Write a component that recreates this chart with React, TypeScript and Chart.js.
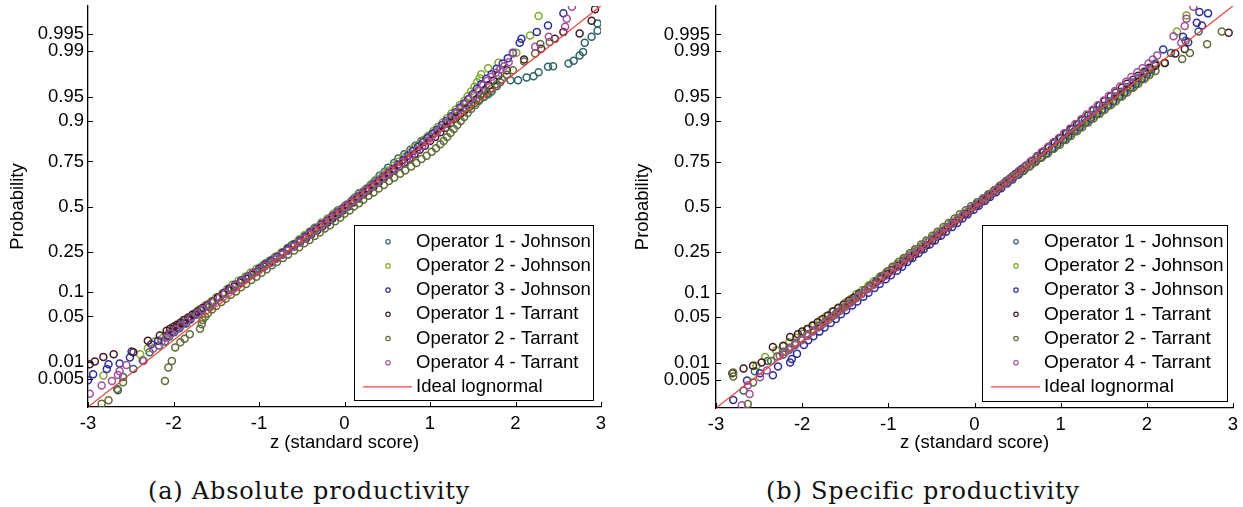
import React, { useEffect, useRef } from "react";
import { Chart, registerables } from "chart.js";

Chart.register(...registerables);

type Pt = [number, number];

const seriesNames = [
  "Operator 1 - Johnson",
  "Operator 2 - Johnson",
  "Operator 3 - Johnson",
  "Operator 1 - Tarrant",
  "Operator 2 - Tarrant",
  "Operator 4 - Tarrant",
];
const idealName = "Ideal lognormal";
const probTickLabels = ["0.005", "0.01", "0.05", "0.1", "0.25", "0.5", "0.75", "0.9", "0.95", "0.99", "0.995"];
const probTickZ = [-2.5758, -2.3263, -1.6449, -1.2816, -0.6745, 0, 0.6745, 1.2816, 1.6449, 2.3263, 2.5758];
const zTicks = [-3, -2, -1, 0, 1, 2, 3];
const idealLine: Pt[] = [[-3, -3], [3, 3]];

// (a) Absolute productivity  — [z score, probability quantile]
const absOp1Johnson: Pt[] = [
  [-2.65, -2.75], [-2.59, -2.55], [-2.47, -2.43], [-2.36, -2.30], [-2.28, -2.18],
  [-2.17, -2.08], [-2.05, -1.95], [-1.93, -1.82], [-1.80, -1.69], [-1.67, -1.56], [-1.53, -1.43],
  [-1.40, -1.30], [-1.27, -1.17], [-1.12, -1.04], [-0.98, -0.91], [-0.83, -0.78], [-0.67, -0.65],
  [-0.54, -0.52], [-0.41, -0.39], [-0.27, -0.26], [-0.14, -0.13], [0.00, 0.00], [0.12, 0.13],
  [0.25, 0.26], [0.36, 0.39], [0.47, 0.52], [0.58, 0.65], [0.70, 0.78], [0.83, 0.91], [0.97, 1.04],
  [1.12, 1.17], [1.27, 1.30], [1.40, 1.43], [1.52, 1.55], [1.63, 1.64], [1.72, 1.72], [1.78, 1.80],
  [1.82, 1.86], [1.94, 1.89], [2.03, 1.89], [2.13, 1.93], [2.21, 1.95], [2.27, 2.01], [2.38, 2.09],
  [2.44, 2.10], [2.62, 2.14], [2.68, 2.18], [2.75, 2.26], [2.79, 2.31], [2.81, 2.45], [2.89, 2.54],
  [2.96, 2.63], [2.96, 2.74],
  [-2.10, -2.02], [-1.99, -1.88], [-1.85, -1.75], [-1.74, -1.62], [-1.58, -1.50], [-1.48, -1.36],
  [-1.32, -1.24], [-1.20, -1.10], [-1.03, -0.98], [-0.92, -0.85], [-0.74, -0.72], [-0.62, -0.58],
  [-0.46, -0.46], [-0.35, -0.32], [-0.19, -0.20], [-0.08, -0.06], [0.07, 0.06], [0.17, 0.20],
  [0.31, 0.33], [0.41, 0.46], [0.51, 0.58], [0.63, 0.72], [0.77, 0.85], [0.90, 0.98], [1.05, 1.10],
  [1.20, 1.24], [1.33, 1.36], [1.46, 1.49], [1.58, 1.60], [1.68, 1.68],
];
const absOp2Johnson: Pt[] = [
  [-2.82, -2.53], [-2.39, -2.21], [-2.30, -2.12], [-2.22, -2.02],
  [-2.12, -1.96], [-2.00, -1.84], [-1.88, -1.72], [-1.76, -1.60], [-1.63, -1.48], [-1.50, -1.36],
  [-1.37, -1.23], [-1.24, -1.11], [-1.10, -0.99], [-0.95, -0.87], [-0.81, -0.75], [-0.67, -0.62],
  [-0.53, -0.49], [-0.40, -0.37], [-0.27, -0.24], [-0.13, -0.11], [0.01, 0.02], [0.14, 0.15],
  [0.27, 0.28], [0.39, 0.41], [0.51, 0.54], [0.63, 0.67], [0.75, 0.80], [0.87, 0.93], [0.98, 1.06],
  [1.09, 1.19], [1.20, 1.32], [1.30, 1.45], [1.40, 1.58], [1.48, 1.72], [1.55, 1.86], [1.60, 1.98],
  [1.68, 2.07], [1.80, 2.15], [2.01, 2.30], [2.17, 2.56], [2.27, 2.85],
  [-2.06, -1.90], [-1.95, -1.78], [-1.81, -1.66], [-1.70, -1.54], [-1.56, -1.42], [-1.43, -1.30],
  [-1.31, -1.17], [-1.16, -1.05], [-1.03, -0.93], [-0.88, -0.81], [-0.74, -0.69], [-0.60, -0.56],
  [-0.47, -0.43], [-0.33, -0.31], [-0.20, -0.18], [-0.06, -0.05], [0.08, 0.09], [0.21, 0.22],
  [0.33, 0.35], [0.45, 0.48], [0.57, 0.61], [0.69, 0.74], [0.81, 0.87], [0.93, 1.00], [1.04, 1.13],
  [1.15, 1.26], [1.25, 1.39], [1.35, 1.52], [1.44, 1.65], [1.52, 1.79], [1.58, 1.92],
];
const absOp3Johnson: Pt[] = [
  [-3.00, -2.60], [-2.94, -2.51], [-2.78, -2.43], [-2.76, -2.36], [-2.63, -2.35], [-2.51, -2.26],
  [-2.49, -2.17], [-2.26, -2.06], [-2.18, -2.01],
  [-2.07, -1.93], [-1.95, -1.81], [-1.81, -1.68], [-1.68, -1.55], [-1.54, -1.42], [-1.41, -1.29],
  [-1.28, -1.17], [-1.14, -1.05], [-1.00, -0.93], [-0.86, -0.81], [-0.72, -0.69], [-0.59, -0.57],
  [-0.46, -0.45], [-0.33, -0.33], [-0.20, -0.21], [-0.08, -0.09], [0.04, 0.03], [0.16, 0.15],
  [0.28, 0.27], [0.40, 0.39], [0.52, 0.51], [0.63, 0.63], [0.74, 0.76], [0.86, 0.89], [0.97, 1.02],
  [1.08, 1.15], [1.19, 1.28], [1.30, 1.41], [1.40, 1.54], [1.50, 1.68], [1.60, 1.83], [1.72, 1.98],
  [1.85, 2.14], [1.97, 2.30], [2.05, 2.45], [2.07, 2.51], [2.25, 2.61], [2.38, 2.71], [2.56, 2.89],
  [-2.01, -1.87], [-1.88, -1.75], [-1.75, -1.62], [-1.61, -1.49], [-1.48, -1.36], [-1.35, -1.23],
  [-1.21, -1.11], [-1.07, -0.99], [-0.93, -0.87], [-0.79, -0.75], [-0.66, -0.63], [-0.52, -0.51],
  [-0.40, -0.39], [-0.27, -0.27], [-0.14, -0.15], [-0.02, -0.03], [0.10, 0.09], [0.22, 0.21],
  [0.34, 0.33], [0.46, 0.45], [0.58, 0.57], [0.69, 0.70], [0.80, 0.83], [0.92, 0.96], [1.03, 1.09],
  [1.14, 1.22], [1.25, 1.35], [1.35, 1.48], [1.45, 1.61], [1.55, 1.76], [1.66, 1.91], [1.78, 2.06],
  [1.91, 2.22],
];
const absOp1Tarrant: Pt[] = [
  [-2.98, -2.36], [-2.92, -2.32], [-2.82, -2.25], [-2.70, -2.21], [-2.47, -2.18], [-2.30, -2.01],
  [-2.16, -1.93], [-2.08, -1.86],
  [-2.00, -1.80], [-1.92, -1.74], [-1.83, -1.66], [-1.72, -1.57], [-1.60, -1.47], [-1.48, -1.36],
  [-1.35, -1.25], [-1.22, -1.14], [-1.08, -1.02], [-0.94, -0.90], [-0.80, -0.78], [-0.66, -0.66],
  [-0.52, -0.54], [-0.39, -0.42], [-0.26, -0.30], [-0.14, -0.18], [-0.02, -0.06], [0.10, 0.06],
  [0.22, 0.18], [0.34, 0.30], [0.46, 0.42], [0.58, 0.54], [0.70, 0.66], [0.82, 0.78], [0.94, 0.91],
  [1.06, 1.04], [1.18, 1.18], [1.30, 1.32], [1.42, 1.46], [1.54, 1.60], [1.64, 1.74], [1.74, 1.88],
  [1.90, 2.04], [2.10, 2.20], [2.30, 2.36], [2.46, 2.51], [2.56, 2.61], [2.75, 2.59], [2.89, 2.78],
  [2.93, 2.95],
  [-2.04, -1.83], [-1.96, -1.77], [-1.88, -1.70], [-1.78, -1.62], [-1.66, -1.52], [-1.54, -1.42],
  [-1.42, -1.31], [-1.29, -1.20], [-1.15, -1.08], [-1.01, -0.96], [-0.87, -0.84], [-0.73, -0.72],
  [-0.59, -0.60], [-0.45, -0.48], [-0.32, -0.36], [-0.20, -0.24], [-0.08, -0.12], [0.04, 0.00],
  [0.16, 0.12], [0.28, 0.24], [0.40, 0.36], [0.52, 0.48], [0.64, 0.60], [0.76, 0.72], [0.88, 0.85],
  [1.00, 0.98], [1.12, 1.11], [1.24, 1.25], [1.36, 1.39], [1.48, 1.53], [1.59, 1.67], [1.69, 1.81],
  [1.80, 1.96],
];
const absOp2Tarrant: Pt[] = [
  [-2.84, -2.95], [-2.76, -2.90], [-2.66, -2.73], [-2.59, -2.63], [-2.10, -2.61], [-2.06, -2.41],
  [-2.02, -2.31], [-1.98, -2.11], [-1.92, -2.03], [-1.87, -1.98], [-1.81, -1.91], [-1.69, -1.83],
  [-1.67, -1.76], [-1.66, -1.70],
  [-1.60, -1.60], [-1.50, -1.49], [-1.39, -1.38], [-1.27, -1.27], [-1.15, -1.16], [-1.03, -1.05],
  [-0.91, -0.94], [-0.79, -0.83], [-0.66, -0.72], [-0.53, -0.61], [-0.41, -0.50], [-0.29, -0.39],
  [-0.17, -0.28], [-0.05, -0.17], [0.06, -0.06], [0.17, 0.05], [0.28, 0.16], [0.40, 0.27],
  [0.52, 0.38], [0.65, 0.49], [0.78, 0.60], [0.90, 0.71], [1.02, 0.82], [1.12, 0.93], [1.20, 1.04],
  [1.28, 1.16], [1.36, 1.28], [1.44, 1.40], [1.53, 1.52], [1.62, 1.64], [1.72, 1.76], [1.84, 1.90],
  [1.97, 2.04], [2.10, 2.17], [2.23, 2.29], [2.29, 2.43], [2.40, 2.46],
  [-1.63, -1.65], [-1.55, -1.54], [-1.44, -1.43], [-1.33, -1.32], [-1.21, -1.21], [-1.09, -1.10],
  [-0.97, -0.99], [-0.85, -0.88], [-0.72, -0.77], [-0.59, -0.66], [-0.47, -0.55], [-0.35, -0.44],
  [-0.23, -0.33], [-0.11, -0.22], [0.00, -0.11], [0.11, 0.00], [0.22, 0.10], [0.34, 0.21],
  [0.46, 0.32], [0.58, 0.43], [0.71, 0.54], [0.84, 0.65], [0.96, 0.76], [1.07, 0.87], [1.16, 0.98],
  [1.24, 1.10], [1.32, 1.22], [1.40, 1.34], [1.48, 1.46], [1.57, 1.58], [1.67, 1.70], [1.78, 1.83],
  [1.90, 1.97],
];
const absOp4Tarrant: Pt[] = [
  [-2.98, -2.80], [-2.84, -2.68], [-2.72, -2.61], [-2.65, -2.52], [-2.63, -2.46], [-2.55, -2.37],
  [-2.35, -2.31], [-2.24, -2.13],
  [-2.14, -2.02], [-2.03, -1.90], [-1.91, -1.78], [-1.79, -1.66], [-1.66, -1.54], [-1.53, -1.42],
  [-1.40, -1.30], [-1.27, -1.18], [-1.14, -1.06], [-1.00, -0.95], [-0.86, -0.84], [-0.73, -0.72],
  [-0.60, -0.60], [-0.47, -0.48], [-0.35, -0.36], [-0.23, -0.24], [-0.11, -0.12], [0.01, 0.00],
  [0.13, 0.12], [0.25, 0.24], [0.37, 0.36], [0.49, 0.48], [0.61, 0.60], [0.73, 0.72], [0.85, 0.85],
  [0.97, 0.98], [1.08, 1.11], [1.19, 1.25], [1.30, 1.39], [1.41, 1.53], [1.52, 1.67], [1.62, 1.81],
  [1.72, 1.94], [1.82, 2.05], [1.92, 2.16], [1.97, 2.29], [2.23, 2.39], [2.39, 2.54], [2.58, 2.69],
  [2.60, 2.81], [2.66, 2.99],
  [-2.08, -1.96], [-1.97, -1.84], [-1.85, -1.72], [-1.72, -1.60], [-1.59, -1.48], [-1.46, -1.36],
  [-1.33, -1.24], [-1.20, -1.12], [-1.07, -1.00], [-0.93, -0.89], [-0.80, -0.78], [-0.66, -0.66],
  [-0.53, -0.54], [-0.41, -0.42], [-0.29, -0.30], [-0.17, -0.18], [-0.05, -0.06], [0.07, 0.06],
  [0.19, 0.18], [0.31, 0.30], [0.43, 0.42], [0.55, 0.54], [0.67, 0.66], [0.79, 0.78], [0.91, 0.91],
  [1.02, 1.04], [1.13, 1.18], [1.24, 1.32], [1.35, 1.46], [1.46, 1.60], [1.57, 1.74], [1.67, 1.88],
  [1.77, 2.00], [1.87, 2.10],
];

// (b) Specific productivity — [z score, probability quantile]
const specOp1Johnson: Pt[] = [
  [-2.68, -2.74], [-2.55, -2.45], [-2.40, -2.30],
  [-2.22, -2.20], [-2.08, -2.06], [-1.94, -1.92], [-1.79, -1.78], [-1.66, -1.64], [-1.52, -1.50],
  [-1.38, -1.36], [-1.24, -1.22], [-1.10, -1.08], [-0.96, -0.94], [-0.82, -0.80], [-0.68, -0.66],
  [-0.54, -0.52], [-0.40, -0.38], [-0.27, -0.24], [-0.12, -0.10], [0.02, 0.04], [0.16, 0.18],
  [0.30, 0.32], [0.44, 0.46], [0.58, 0.60], [0.72, 0.74], [0.86, 0.88], [1.00, 1.02], [1.14, 1.16],
  [1.28, 1.30], [1.42, 1.44], [1.56, 1.58], [1.70, 1.72], [1.84, 1.86], [1.98, 2.00], [2.10, 2.14],
  [2.28, 2.30], [2.45, 2.48], [2.60, 2.62],
  [-2.15, -2.13], [-2.01, -1.99], [-1.87, -1.85], [-1.73, -1.71], [-1.59, -1.57], [-1.45, -1.43],
  [-1.31, -1.29], [-1.17, -1.15], [-1.03, -1.01], [-0.89, -0.87], [-0.75, -0.73], [-0.61, -0.59],
  [-0.47, -0.45], [-0.33, -0.31], [-0.19, -0.17], [-0.05, -0.03], [0.09, 0.11], [0.23, 0.25],
  [0.37, 0.39], [0.51, 0.53], [0.65, 0.67], [0.79, 0.81], [0.93, 0.95], [1.07, 1.09], [1.21, 1.23],
  [1.35, 1.37], [1.49, 1.51], [1.63, 1.65], [1.77, 1.79], [1.91, 1.93], [2.04, 2.07],
];
const specOp2Johnson: Pt[] = [
  [-2.53, -2.37], [-2.43, -2.24],
  [-2.30, -2.14], [-2.15, -2.02], [-2.00, -1.89], [-1.86, -1.76], [-1.72, -1.63], [-1.58, -1.50],
  [-1.43, -1.37], [-1.30, -1.24], [-1.17, -1.11], [-1.03, -0.98], [-0.90, -0.85], [-0.76, -0.72],
  [-0.62, -0.59], [-0.49, -0.46], [-0.35, -0.33], [-0.22, -0.20], [-0.08, -0.07], [0.06, 0.06],
  [0.19, 0.19], [0.32, 0.32], [0.46, 0.45], [0.60, 0.58], [0.73, 0.71], [0.87, 0.84], [1.00, 0.97],
  [1.13, 1.10], [1.26, 1.23], [1.40, 1.36], [1.53, 1.49], [1.66, 1.62], [1.79, 1.75], [1.92, 1.88],
  [2.05, 2.01], [2.20, 2.15], [2.35, 2.62], [2.46, 2.86],
  [-2.22, -2.08], [-2.07, -1.95], [-1.93, -1.82], [-1.79, -1.69], [-1.65, -1.56], [-1.50, -1.43],
  [-1.37, -1.30], [-1.23, -1.17], [-1.10, -1.04], [-0.96, -0.91], [-0.83, -0.78], [-0.69, -0.65],
  [-0.55, -0.52], [-0.42, -0.39], [-0.28, -0.26], [-0.15, -0.13], [-0.01, 0.00], [0.13, 0.12],
  [0.26, 0.25], [0.39, 0.38], [0.53, 0.51], [0.67, 0.64], [0.80, 0.77], [0.94, 0.90], [1.07, 1.03],
  [1.20, 1.16], [1.33, 1.29], [1.47, 1.42], [1.60, 1.55], [1.73, 1.68], [1.86, 1.81], [1.99, 1.94],
];
const specOp3Johnson: Pt[] = [
  [-2.80, -2.88], [-2.64, -2.59], [-2.49, -2.48], [-2.34, -2.51], [-2.28, -2.38], [-2.14, -2.32],
  [-2.12, -2.27], [-2.06, -2.19],
  [-1.98, -2.06], [-1.87, -1.93], [-1.74, -1.80], [-1.61, -1.67], [-1.49, -1.54], [-1.36, -1.41],
  [-1.23, -1.28], [-1.10, -1.15], [-0.97, -1.02], [-0.84, -0.89], [-0.72, -0.76], [-0.59, -0.63],
  [-0.46, -0.50], [-0.33, -0.37], [-0.20, -0.24], [-0.08, -0.11], [0.05, 0.02], [0.18, 0.15],
  [0.31, 0.28], [0.44, 0.41], [0.57, 0.54], [0.70, 0.67], [0.83, 0.80], [0.96, 0.93], [1.09, 1.06],
  [1.22, 1.19], [1.35, 1.32], [1.48, 1.45], [1.61, 1.58], [1.74, 1.71], [1.87, 1.84], [2.00, 1.98],
  [2.10, 2.12], [2.19, 2.35], [2.42, 2.54], [2.48, 2.46], [2.58, 2.75], [2.64, 2.71], [2.61, 2.91],
  [2.71, 2.89],
  [-1.93, -1.99], [-1.80, -1.86], [-1.67, -1.73], [-1.55, -1.60], [-1.42, -1.47], [-1.29, -1.34],
  [-1.16, -1.21], [-1.03, -1.08], [-0.90, -0.95], [-0.78, -0.82], [-0.65, -0.69], [-0.52, -0.56],
  [-0.39, -0.43], [-0.26, -0.30], [-0.14, -0.17], [-0.01, -0.04], [0.12, 0.09], [0.25, 0.22],
  [0.38, 0.35], [0.51, 0.48], [0.64, 0.61], [0.77, 0.74], [0.90, 0.87], [1.03, 1.00], [1.16, 1.13],
  [1.29, 1.26], [1.42, 1.39], [1.55, 1.52], [1.68, 1.65], [1.81, 1.78], [1.94, 1.91], [2.05, 2.05],
];
const specOp1Tarrant: Pt[] = [
  [-2.81, -2.48], [-2.68, -2.41], [-2.57, -2.37], [-2.47, -2.32], [-2.34, -2.09], [-2.22, -2.07],
  [-2.14, -1.94],
  [-2.05, -1.90], [-1.94, -1.82], [-1.82, -1.72], [-1.70, -1.62], [-1.58, -1.51], [-1.46, -1.40],
  [-1.34, -1.29], [-1.21, -1.18], [-1.08, -1.06], [-0.95, -0.94], [-0.82, -0.82], [-0.69, -0.70],
  [-0.56, -0.57], [-0.43, -0.44], [-0.31, -0.31], [-0.18, -0.18], [-0.05, -0.05], [0.08, 0.08],
  [0.21, 0.21], [0.34, 0.35], [0.47, 0.49], [0.60, 0.62], [0.73, 0.76], [0.86, 0.90], [0.99, 1.03],
  [1.12, 1.16], [1.25, 1.30], [1.38, 1.44], [1.51, 1.58], [1.64, 1.71], [1.77, 1.84], [1.90, 1.96],
  [2.03, 2.08], [2.21, 2.15], [2.33, 2.29], [2.44, 2.36], [2.95, 2.60],
  [-2.00, -1.86], [-1.88, -1.77], [-1.76, -1.67], [-1.64, -1.56], [-1.52, -1.46], [-1.40, -1.35],
  [-1.27, -1.24], [-1.14, -1.12], [-1.01, -1.00], [-0.88, -0.88], [-0.75, -0.76], [-0.62, -0.63],
  [-0.49, -0.50], [-0.37, -0.37], [-0.24, -0.24], [-0.11, -0.11], [0.02, 0.02], [0.15, 0.15],
  [0.28, 0.28], [0.41, 0.42], [0.54, 0.56], [0.67, 0.69], [0.80, 0.83], [0.93, 0.97], [1.06, 1.10],
  [1.19, 1.23], [1.32, 1.37], [1.45, 1.51], [1.58, 1.65], [1.71, 1.78], [1.84, 1.90], [1.97, 2.02],
  [2.10, 2.11],
];
const specOp2Tarrant: Pt[] = [
  [-2.80, -2.47], [-2.80, -2.53], [-2.63, -2.94], [-2.57, -2.62],
  [-2.36, -2.30], [-2.22, -2.16], [-2.08, -2.03], [-1.94, -1.90], [-1.80, -1.77], [-1.66, -1.64],
  [-1.53, -1.51], [-1.40, -1.38], [-1.27, -1.24], [-1.14, -1.10], [-1.01, -0.96], [-0.88, -0.82],
  [-0.75, -0.69], [-0.62, -0.56], [-0.49, -0.43], [-0.36, -0.30], [-0.23, -0.17], [-0.10, -0.05],
  [0.03, 0.07], [0.16, 0.19], [0.29, 0.31], [0.43, 0.43], [0.57, 0.55], [0.71, 0.67], [0.85, 0.80],
  [0.99, 0.93], [1.12, 1.06], [1.25, 1.19], [1.38, 1.32], [1.51, 1.45], [1.64, 1.58], [1.77, 1.71],
  [1.90, 1.84], [2.03, 1.97], [2.41, 2.21], [2.50, 2.30], [2.70, 2.43], [2.87, 2.62],
  [-2.29, -2.23], [-2.15, -2.10], [-2.01, -1.97], [-1.87, -1.84], [-1.73, -1.71], [-1.60, -1.58],
  [-1.47, -1.45], [-1.34, -1.31], [-1.21, -1.17], [-1.08, -1.03], [-0.95, -0.89], [-0.82, -0.76],
  [-0.69, -0.63], [-0.56, -0.50], [-0.43, -0.37], [-0.30, -0.24], [-0.17, -0.11], [-0.04, 0.01],
  [0.10, 0.13], [0.23, 0.25], [0.36, 0.37], [0.50, 0.49], [0.64, 0.61], [0.78, 0.74], [0.92, 0.87],
  [1.06, 1.00], [1.19, 1.13], [1.32, 1.26], [1.45, 1.39], [1.58, 1.52], [1.71, 1.65], [1.84, 1.78],
  [1.97, 1.91], [2.10, 2.03],
];
const specOp4Tarrant: Pt[] = [
  [-2.70, -2.96], [-2.61, -2.79], [-2.63, -2.66], [-2.49, -2.54], [-2.41, -2.44], [-2.26, -2.22],
  [-2.13, -2.10], [-2.00, -1.98], [-1.88, -1.86], [-1.75, -1.74], [-1.62, -1.61], [-1.49, -1.48],
  [-1.36, -1.35], [-1.23, -1.22], [-1.10, -1.09], [-0.97, -0.96], [-0.84, -0.83], [-0.71, -0.70],
  [-0.58, -0.57], [-0.45, -0.44], [-0.32, -0.31], [-0.19, -0.18], [-0.06, -0.05], [0.07, 0.08],
  [0.20, 0.21], [0.33, 0.34], [0.46, 0.47], [0.59, 0.61], [0.72, 0.75], [0.85, 0.89], [0.98, 1.03],
  [1.11, 1.17], [1.24, 1.31], [1.37, 1.45], [1.50, 1.59], [1.63, 1.73], [1.76, 1.87], [1.89, 2.01],
  [2.02, 2.14], [2.12, 2.26], [2.31, 2.55], [2.40, 2.45], [2.44, 2.70], [2.46, 2.81], [2.54, 2.99],
  [-2.19, -2.16], [-2.07, -2.04], [-1.94, -1.92], [-1.82, -1.80], [-1.69, -1.68], [-1.56, -1.55],
  [-1.43, -1.42], [-1.30, -1.29], [-1.17, -1.16], [-1.04, -1.03], [-0.91, -0.90], [-0.78, -0.77],
  [-0.65, -0.64], [-0.52, -0.51], [-0.39, -0.38], [-0.26, -0.25], [-0.13, -0.12], [0.00, 0.01],
  [0.13, 0.14], [0.26, 0.27], [0.39, 0.40], [0.52, 0.54], [0.65, 0.68], [0.78, 0.82], [0.91, 0.96],
  [1.04, 1.10], [1.17, 1.24], [1.30, 1.38], [1.43, 1.52], [1.56, 1.66], [1.69, 1.80], [1.82, 1.94],
  [1.95, 2.07], [2.07, 2.20],
];

const absSeries = [absOp1Johnson, absOp2Johnson, absOp3Johnson, absOp1Tarrant, absOp2Tarrant, absOp4Tarrant];
const specSeries = [specOp1Johnson, specOp2Johnson, specOp3Johnson, specOp1Tarrant, specOp2Tarrant, specOp4Tarrant];

const SERIES_COLORS = ["#2f6466", "#80a82c", "#2e2e98", "#451a25", "#5e6c36", "#a24f99"];
const IDEAL_COLOR = "#e8463c";
const SANS = '"Liberation Sans", Arial, Helvetica, sans-serif';

type PanelCfg = {
  left: number;
  width: number;
  height: number;
  axisW: number;
  axisH: number;
  padTop: number;
  padRight: number;
  yTitlePad: number;
  xTitlePad: number;
  yTickPad: number;
  xTickPad: number;
  legendW: number;
  legendH: number;
  legendRight: number;
  legendBottom: number;
  font: number;
  legendFont: number;
};

const cfgA: PanelCfg = {
  left: 0, width: 620, height: 460, axisW: 88, axisH: 53, padTop: 6, padRight: 19,
  yTitlePad: 7, xTitlePad: 6, yTickPad: 4, xTickPad: 6,
  legendW: 239, legendH: 175, legendRight: 8, legendBottom: 7, font: 18.5, legendFont: 18.5,
};
const cfgB: PanelCfg = {
  left: 628, width: 615, height: 460, axisW: 88, axisH: 52, padTop: 6, padRight: 10,
  yTitlePad: 4, xTitlePad: 6, yTickPad: 6, xTickPad: 6,
  legendW: 245, legendH: 176, legendRight: 6, legendBottom: 7, font: 18.5, legendFont: 19,
};

function Panel({ series, cfg }: { series: Pt[][]; cfg: PanelCfg }) {
  const ref = useRef<HTMLCanvasElement>(null);
  useEffect(() => {
    const canvas = ref.current;
    if (!canvas) return;
    const toXY = (arr: Pt[]) => arr.map(([x, y]) => ({ x, y }));
    const datasets: any[] = series.map((s, i) => ({
      type: "scatter",
      label: seriesNames[i],
      data: toXY(s),
      showLine: false,
      pointStyle: "circle",
      pointRadius: 3.5,
      pointBorderWidth: 1.5,
      pointBackgroundColor: "rgba(0,0,0,0)",
      pointBorderColor: SERIES_COLORS[i],
      order: 10 - i,
    }));
    datasets.push({
      type: "scatter",
      label: idealName,
      data: toXY(idealLine),
      showLine: true,
      borderColor: IDEAL_COLOR,
      borderWidth: 1.3,
      pointRadius: 0,
      order: 0,
    });

    const innerTicks = {
      id: "innerTicks",
      afterDatasetsDraw(chart: any) {
        const { ctx, chartArea, scales } = chart;
        ctx.save();
        ctx.strokeStyle = "#000";
        ctx.lineWidth = 1;
        ctx.beginPath();
        scales.x.ticks.forEach((t: any) => {
          const px = Math.round(scales.x.getPixelForValue(t.value)) + 0.5;
          ctx.moveTo(px, chartArea.bottom);
          ctx.lineTo(px, chartArea.bottom - 5);
        });
        scales.y.ticks.forEach((t: any) => {
          const py = Math.round(scales.y.getPixelForValue(t.value)) + 0.5;
          ctx.moveTo(chartArea.left, py);
          ctx.lineTo(chartArea.left + 5, py);
        });
        ctx.stroke();
        ctx.restore();
      },
    };

    const boxLegend = {
      id: "boxLegend",
      afterDraw(chart: any) {
        const { ctx, chartArea } = chart;
        const right = chartArea.right - cfg.legendRight;
        const bottom = chartArea.bottom - cfg.legendBottom;
        const left = right - cfg.legendW;
        const top = bottom - cfg.legendH;
        ctx.save();
        ctx.fillStyle = "#fff";
        ctx.fillRect(left, top, cfg.legendW, cfg.legendH);
        ctx.strokeStyle = "#000";
        ctx.lineWidth = 1;
        ctx.strokeRect(Math.round(left) + 0.5, Math.round(top) + 0.5, cfg.legendW, cfg.legendH);
        ctx.font = `${cfg.legendFont}px ${SANS}`;
        ctx.textBaseline = "middle";
        ctx.textAlign = "left";
        const names = [...seriesNames, idealName];
        names.forEach((n, i) => {
          const cy = top + 16.7 + i * 24.2;
          if (i < seriesNames.length) {
            ctx.strokeStyle = SERIES_COLORS[i];
            ctx.lineWidth = 1.2;
            ctx.beginPath();
            ctx.arc(left + 34, cy, 2.2, 0, Math.PI * 2);
            ctx.stroke();
          } else {
            ctx.strokeStyle = IDEAL_COLOR;
            ctx.lineWidth = 1.3;
            ctx.beginPath();
            ctx.moveTo(left + 9, cy);
            ctx.lineTo(left + 58, cy);
            ctx.stroke();
          }
          ctx.fillStyle = "#000";
          ctx.fillText(n, left + 62, cy);
        });
        ctx.restore();
      },
    };

    const tickFont = { family: SANS, size: cfg.font };
    const chart = new Chart(canvas, {
      type: "scatter",
      data: { datasets },
      options: {
        animation: false,
        responsive: false,
        devicePixelRatio: 1,
        events: [],
        layout: { padding: { top: cfg.padTop, right: cfg.padRight, bottom: 0, left: 0 } },
        plugins: { legend: { display: false }, tooltip: { enabled: false } },
        scales: {
          x: {
            type: "linear",
            min: -3,
            max: 3,
            afterBuildTicks: (s: any) => {
              s.ticks = zTicks.map((v) => ({ value: v }));
            },
            afterFit: (s: any) => {
              s.height = cfg.axisH;
              s.paddingLeft = 0;
              s.paddingRight = 0;
            },
            grid: { display: false, drawTicks: false },
            border: { display: true, color: "#000", width: 1.3 },
            ticks: {
              color: "#000",
              font: tickFont,
              padding: cfg.xTickPad,
              maxRotation: 0,
              autoSkip: false,
              callback: (v: any) => String(v),
            },
            title: {
              display: true,
              text: "z (standard score)",
              color: "#000",
              font: { family: SANS, size: 18.5 },
              padding: { top: 0, bottom: cfg.xTitlePad },
            },
          },
          y: {
            type: "linear",
            min: -3,
            max: 3,
            afterBuildTicks: (s: any) => {
              s.ticks = probTickZ.map((v) => ({ value: v }));
            },
            afterFit: (s: any) => {
              s.width = cfg.axisW;
              s.paddingTop = 0;
              s.paddingBottom = 0;
            },
            grid: { display: false, drawTicks: false },
            border: { display: true, color: "#000", width: 1.3 },
            ticks: {
              color: "#000",
              font: tickFont,
              padding: cfg.yTickPad,
              autoSkip: false,
              callback: (_v: any, i: number) => probTickLabels[i],
            },
            title: {
              display: true,
              text: "Probability",
              color: "#000",
              font: { family: SANS, size: 18.5 },
              padding: { top: cfg.yTitlePad, bottom: 0 },
            },
          },
        },
      } as any,
      plugins: [innerTicks, boxLegend],
    });
    return () => chart.destroy();
  }, []);
  return (
    <canvas
      ref={ref}
      width={cfg.width}
      height={cfg.height}
      style={{ position: "absolute", left: cfg.left, top: 0, width: cfg.width, height: cfg.height }}
    />
  );
}

const captionStyle: React.CSSProperties = {
  position: "absolute",
  top: 477,
  fontFamily: '"DejaVu Serif", "Liberation Serif", serif',
  fontSize: 24,
  lineHeight: "28px",
  letterSpacing: "0.8px",
  color: "#111",
  whiteSpace: "nowrap",
  transform: "translateX(-50%)",
};

export default function App() {
  return (
    <div style={{ position: "absolute", left: 0, top: 0, width: 1243, height: 507, background: "#fff", overflow: "hidden" }}>
      <Panel series={absSeries} cfg={cfgA} />
      <Panel series={specSeries} cfg={cfgB} />
      <div style={{ ...captionStyle, left: 309 }}>(a) Absolute productivity</div>
      <div style={{ ...captionStyle, left: 923 }}>(b) Specific productivity</div>
    </div>
  );
}
